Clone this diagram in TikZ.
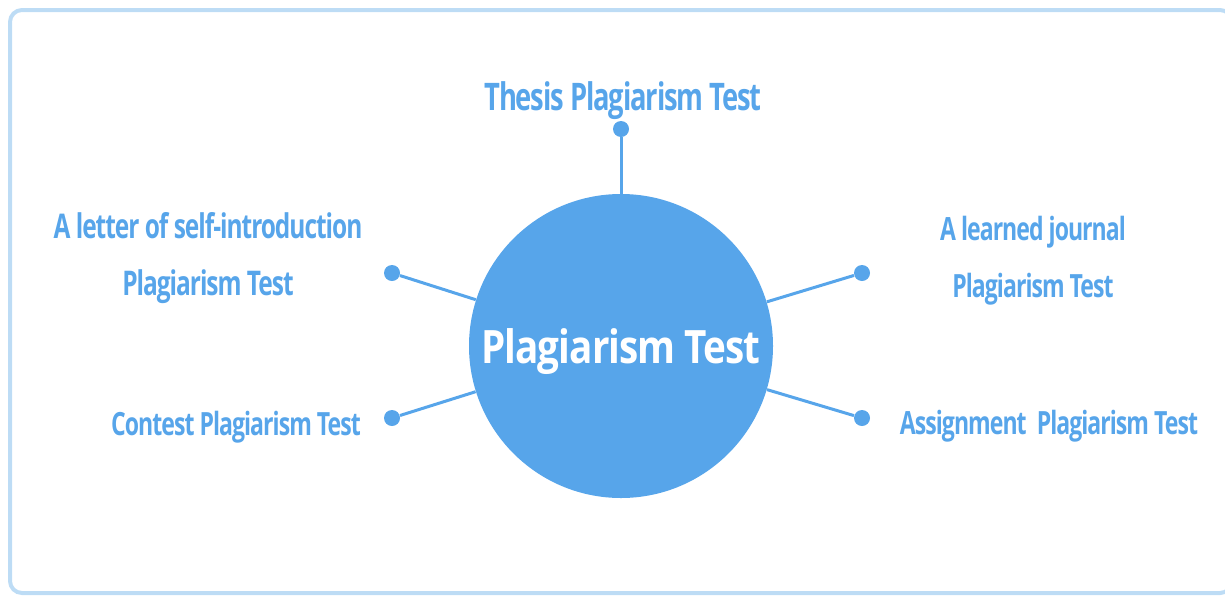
\documentclass[tikz,border=0pt]{standalone}
\usepackage{fontspec}
\newfontfamily\plagfont[FakeStretch=0.72,LetterSpace=-3]{Open Sans}
\newfontfamily\hubfont[FakeStretch=0.84,LetterSpace=-2]{Open Sans}
\definecolor{plagblue}{HTML}{57A5EA}
\definecolor{frameblue}{HTML}{BDDCF5}
\begin{document}
\begin{tikzpicture}[x=0.5pt,y=-0.5pt,
    plagtext/.style={text=plagblue, inner sep=0pt, align=center,
        font=\plagfont\bfseries\fontsize{16}{28.5}\selectfont},
    dot/.style={circle, fill=plagblue, inner sep=0pt, minimum size=8pt},
    spoke/.style={plagblue, line width=1.5pt}]
\useasboundingbox (0,0) rectangle (1225,595);
\draw [frameblue, line width=2pt, rounded corners=6pt] (10,10) rectangle (1232,593);
\node [circle, fill=plagblue, minimum size=152pt, inner sep=0pt] (hub) at (621,346) {};
\node [text=white, inner sep=0pt, anchor=base,
    font=\hubfont\bfseries\fontsize{23}{28}\selectfont] (hubtext) at (621,363) {Plagiarism Test};
\foreach \name/\x/\y in {thesis/621/129, letter/392/273, contest/392/418, journal/862/273, assign/862/418} {%
    \node [dot] (\name) at (\x,\y) {};
    \draw [spoke] (\name) -- (hub);
}
\node [plagtext, anchor=base, font=\plagfont\bfseries\fontsize{19}{28.5}\selectfont] (thesistext) at (623,110) {Thesis Plagiarism Test};
\node [plagtext, anchor=base, font=\plagfont\bfseries\fontsize{17}{28.5}\selectfont] (lettertext) at (208,295) {A letter of self-introduction\\Plagiarism Test};
\node [plagtext, anchor=base] (contesttext) at (236,435) {Contest Plagiarism Test};
\node [plagtext, anchor=base] (journaltext) at (1033,297) {A learned journal\\Plagiarism Test};
\node [plagtext, anchor=base] (assigntext) at (1049,434) {Assignment~ Plagiarism Test};
\end{tikzpicture}
\end{document}
